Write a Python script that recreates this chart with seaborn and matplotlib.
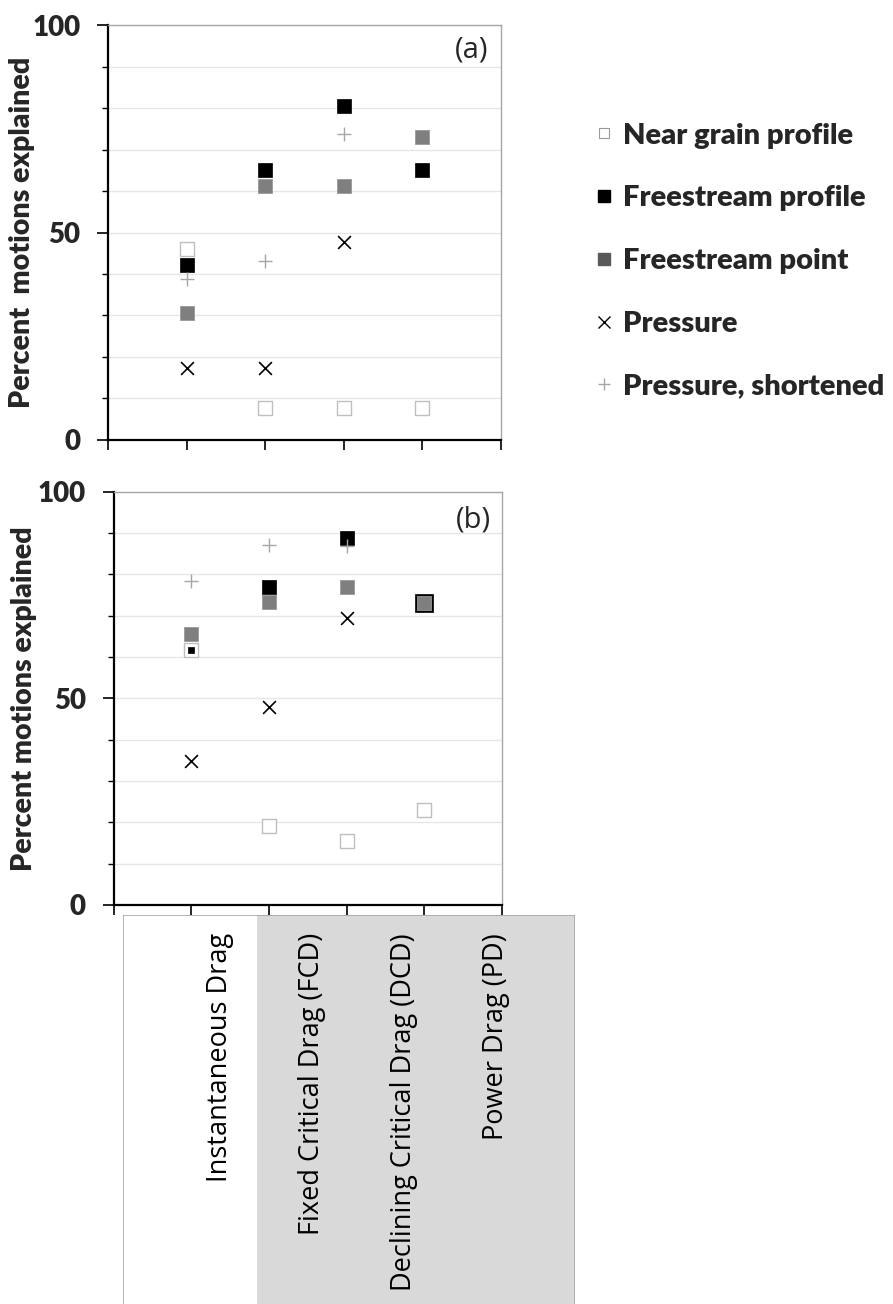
import numpy as np
import pandas as pd
import matplotlib
matplotlib.use("Agg")
import matplotlib.pyplot as plt
from matplotlib.lines import Line2D
from matplotlib.patches import Rectangle
import seaborn as sns

# ---- data -------------------------------------------------------------
models = ["Instantaneous Drag", "Fixed Critical Drag (FCD)",
          "Declining Critical Drag (DCD)", "Power Drag (PD)"]
series = ["Near grain profile", "Freestream profile", "Freestream point",
          "Pressure", "Pressure, shortened"]

# panel (a)
a_near_grain = [46.1, 7.6, 7.6, 7.6]
a_free_profile = [42.2, 65.1, 80.5, 65.1]
a_free_point = [30.7, 61.3, 61.3, 72.9]
a_pressure = [17.3, 17.3, 47.6, np.nan]
a_pressure_short = [38.7, 43.2, 73.7, np.nan]

# panel (b)
b_near_grain = [61.7, 19.2, 15.5, 23.1]
b_free_profile = [61.7, 77.0, 88.7, 73.1]
b_free_point = [65.5, 73.2, 77.0, 73.1]
b_pressure = [34.8, 47.8, 69.5, np.nan]
b_pressure_short = [78.4, 87.1, 86.9, np.nan]

y_ticks = [0, 50, 100]


def long_frame(values):
    rows = []
    for name, vals in zip(series, values):
        for i, v in enumerate(vals):
            rows.append({"model": models[i], "pos": i + 1, "series": name, "value": v})
    return pd.DataFrame(rows).dropna()


df_a = long_frame([a_near_grain, a_free_profile, a_free_point, a_pressure, a_pressure_short])
df_b = long_frame([b_near_grain, b_free_profile, b_free_point, b_pressure, b_pressure_short])

# ---- styles -----------------------------------------------------------
sns.set_theme(style="white")
plt.rcParams["font.family"] = ["Lato", "DejaVu Sans"]

SQ = 90  # square marker area (pt^2)
styles = {
    "Near grain profile": dict(marker="s", s=SQ, facecolor="white", edgecolor="#bfbfbf", linewidth=1.0),
    "Freestream profile": dict(marker="s", s=SQ, facecolor="black", edgecolor="black", linewidth=0.5),
    "Freestream point": dict(marker="s", s=SQ, facecolor="#7f7f7f", edgecolor="#999999", linewidth=0.6),
    "Pressure": dict(marker="x", s=85, color="black", linewidth=1.2),
    "Pressure, shortened": dict(marker="+", s=110, color="#a6a6a6", linewidth=1.0),
}

fig = plt.figure(figsize=(8.93, 13.04), dpi=100)
ax_a = fig.add_axes([0.1209, 0.6626, 0.4401, 0.3182])
ax_b = fig.add_axes([0.1273, 0.3060, 0.4349, 0.3169])


def draw_panel(ax, df, order, tag, tag_xy, ylabel, label_x):
    for name in order:
        sub = df[df["series"] == name]
        st = dict(styles[name])
        if name == "Freestream profile" and tag == "(b)":
            # where this series coincides with another one, shrink or enlarge its
            # square so that both stay visible
            other_ng = df[df["series"] == "Near grain profile"].set_index("pos")["value"]
            other_fp = df[df["series"] == "Freestream point"].set_index("pos")["value"]
            st.pop("s")
            for p, v in zip(sub["pos"], sub["value"]):
                if np.isclose(v, other_ng.get(p, np.nan)):
                    s, z = 22, 3
                elif np.isclose(v, other_fp.get(p, np.nan)):
                    s, z = 170, 2
                else:
                    s, z = SQ, 3
                sns.scatterplot(x=[p], y=[v], ax=ax, s=s, zorder=z, legend=False, **st)
            continue
        sns.scatterplot(data=sub, x="pos", y="value", ax=ax, legend=False, zorder=3, **st)

    ax.set_xlim(0, 5)
    ax.set_ylim(0, 100)
    ax.set_xticks(range(0, 6))
    ax.set_xticklabels([])
    ax.set_yticks(y_ticks)
    ax.set_yticks(np.arange(10, 100, 10), minor=True)
    ax.set_yticklabels([str(t) for t in y_ticks], fontsize=20, fontweight="heavy")
    ax.tick_params(axis="y", which="major", direction="out", length=8, width=1.2,
                   color="black", pad=12, left=True)
    ax.tick_params(axis="y", which="minor", direction="out", length=4, width=1.0,
                   color="black", left=True)
    ax.tick_params(axis="x", which="major", direction="out", length=7, width=1.2,
                   color="black", bottom=True)
    ax.grid(axis="y", which="both", color="#e6e6e6", linewidth=1.0)
    ax.set_axisbelow(True)
    for side in ("left", "bottom"):
        ax.spines[side].set_color("black")
        ax.spines[side].set_linewidth(1.6)
    for side in ("top", "right"):
        ax.spines[side].set_color("#a6a6a6")
        ax.spines[side].set_linewidth(1.0)
    ax.set_xlabel("")
    ax.set_ylabel(ylabel, fontsize=20.5, fontweight="heavy")
    ax.yaxis.set_label_coords(label_x, 0.5)
    ax.text(tag_xy[0], tag_xy[1], tag, transform=ax.transAxes, ha="right", va="center",
            fontsize=21, fontfamily=["Open Sans", "DejaVu Sans"])


draw_panel(ax_a, df_a,
           ["Near grain profile", "Freestream point", "Freestream profile",
            "Pressure", "Pressure, shortened"],
           "(a)", (0.968, 0.94), "Percent  motions explained", -0.186)
draw_panel(ax_b, df_b,
           ["Freestream point", "Near grain profile", "Freestream profile",
            "Pressure", "Pressure, shortened"],
           "(b)", (0.972, 0.932), "Percent motions explained", -0.198)

# ---- legend -----------------------------------------------------------
handles = [
    Line2D([], [], linestyle="none", marker="s", markersize=7, markerfacecolor="white",
           markeredgecolor="#999999", markeredgewidth=0.8),
    Line2D([], [], linestyle="none", marker="s", markersize=9, markerfacecolor="black",
           markeredgecolor="black"),
    Line2D([], [], linestyle="none", marker="s", markersize=8.5, markerfacecolor="#595959",
           markeredgecolor="#595959"),
    Line2D([], [], linestyle="none", marker="x", markersize=8.5, color="black",
           markeredgewidth=1.0),
    Line2D([], [], linestyle="none", marker="+", markersize=9, color="#a6a6a6",
           markeredgewidth=1.0),
]
fig.legend(handles, series, loc="upper left", bbox_to_anchor=(0.6537, 0.9150),
           frameon=False, prop={"family": ["Lato", "DejaVu Sans"], "weight": "heavy", "size": 21},
           labelspacing=1.26, handlelength=0.6, handletextpad=0.35, borderaxespad=0)

# ---- category label box -----------------------------------------------
ax_c = fig.add_axes([0.1377, -0.01, 0.5062, 0.3083])
ax_c.set_xlim(0, 1)
ax_c.set_ylim(0, 1)
ax_c.axis("off")
ax_c.add_patch(Rectangle((0.296, 0), 0.704, 1, facecolor="#d9d9d9", edgecolor="none"))
ax_c.add_patch(Rectangle((0, 0), 1, 1, facecolor="none", edgecolor="#a6a6a6", linewidth=1.2))
label_pos = 0.214 + 0.204 * np.arange(len(models))
for x, name in zip(label_pos, models):
    ax_c.text(x, 0.955, name, rotation=90, ha="center", va="top", fontsize=19.5,
              fontfamily=["Open Sans", "DejaVu Sans"], color="black")

fig.savefig("out.png", dpi=100)
